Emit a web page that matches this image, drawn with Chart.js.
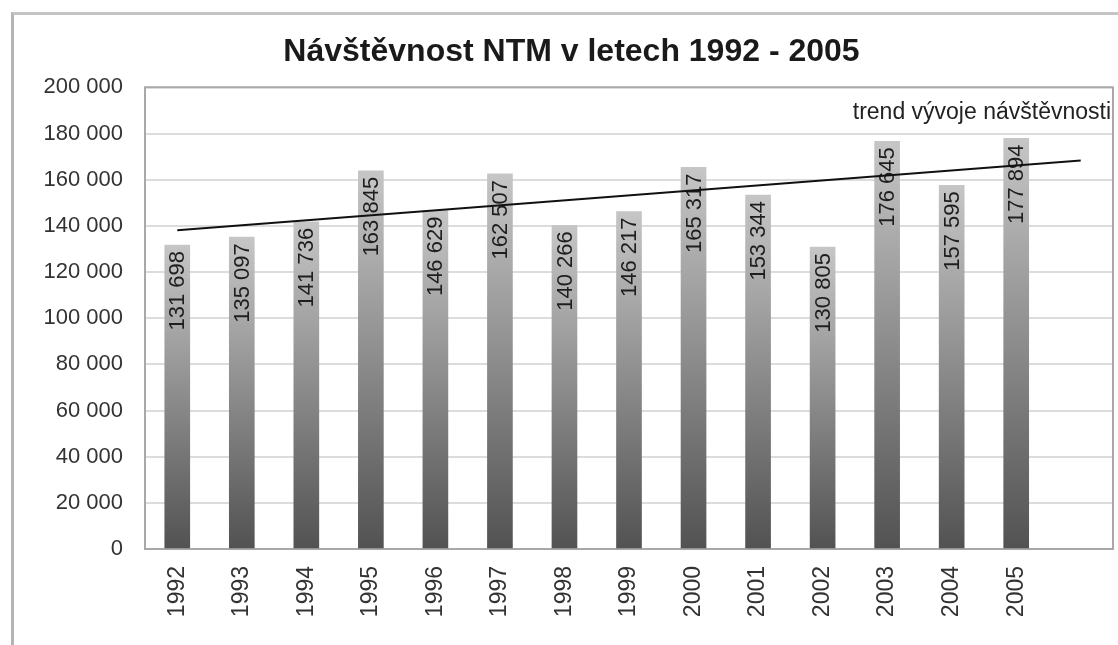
<!DOCTYPE html>
<html>
<head>
<meta charset="utf-8">
<script src="https://cdn.jsdelivr.net/npm/chart.js@4.4.0/dist/chart.umd.min.js"></script>
<style>
  html, body { margin: 0; padding: 0; background: #fff; overflow: hidden; }
  #frame { position: absolute; left: 11px; top: 12px; width: 1120px; height: 650px;
           border-left: 3px solid #b4b4b4; border-top: 3px solid #c4c4c4; }
  #wrap { position: absolute; left: 0; top: 0; width: 1118px; height: 645px; }
</style>
</head>
<body>
<div id="frame"></div>
<div id="wrap"><canvas id="chart"></canvas></div>
<script>
// years on the axis, plus one empty slot where the trend line ends
const years = ['1992', '1993', '1994', '1995', '1996', '1997', '1998',
               '1999', '2000', '2001', '2002', '2003', '2004', '2005', ''];
const visitors = [131698, 135097, 141736, 163845, 146629, 162507, 140266,
                  146217, 165317, 153344, 130805, 176645, 157595, 177894];
// trend line ends (first year and the empty slot)
const trendEnds = [138100, 168300];
const trendLabel = 'trend vývoje návštěvnosti';
const titleText = 'Návštěvnost NTM v letech 1992 - 2005';

const FONT = "'Liberation Sans', Arial, sans-serif";

function fmt(n) {
  return String(n).replace(/\B(?=(\d{3})+(?!\d))/g, ' ');
}

const trendData = years.map(() => null);
trendData[0] = trendEnds[0];
trendData[years.length - 1] = trendEnds[1];

function barGradient(ctx) {
  const chart = ctx.chart;
  if (!chart.chartArea || ctx.raw == null) return '#888';
  const y = chart.scales.y;
  const top = y.getPixelForValue(ctx.raw);
  const bot = y.getPixelForValue(0);
  const g = chart.ctx.createLinearGradient(0, top, 0, bot);
  g.addColorStop(0, '#c6c6c6');
  g.addColorStop(0.5, '#8c8c8c');
  g.addColorStop(1, '#525252');
  return g;
}

// plot frame behind the bars
const frameBox = {
  id: 'frameBox',
  beforeDatasetsDraw(chart) {
    const { ctx, chartArea: a } = chart;
    ctx.save();
    ctx.strokeStyle = '#a8a8a8';
    ctx.lineWidth = 2;
    ctx.strokeRect(a.left, a.top, a.right - a.left, a.bottom - a.top);
    ctx.restore();
  }
};

// vertical value labels at the top of each bar
const barLabels = {
  id: 'barLabels',
  afterDatasetDraw(chart, args) {
    if (args.index !== 0) return;
    const { ctx } = chart;
    const meta = chart.getDatasetMeta(0);
    ctx.save();
    ctx.font = '22px ' + FONT;
    ctx.fillStyle = '#1e1e1e';
    ctx.textAlign = 'right';
    ctx.textBaseline = 'middle';
    meta.data.forEach((bar, i) => {
      if (visitors[i] == null) return;
      ctx.save();
      ctx.translate(bar.x + 1, bar.y + 6);
      ctx.rotate(-Math.PI / 2);
      ctx.fillText(fmt(visitors[i]), 0, 0);
      ctx.restore();
    });
    ctx.restore();
  }
};

// caption for the trend line
const trendCaption = {
  id: 'trendCaption',
  afterDraw(chart) {
    const { ctx, chartArea: a } = chart;
    ctx.save();
    ctx.font = '23px ' + FONT;
    ctx.fillStyle = '#222';
    ctx.textAlign = 'right';
    ctx.textBaseline = 'middle';
    ctx.fillText(trendLabel, a.right - 2, a.top + 25);
    ctx.restore();
  }
};

new Chart(document.getElementById('chart'), {
  data: {
    labels: years,
    datasets: [
      {
        type: 'bar',
        data: visitors,
        backgroundColor: barGradient,
        borderWidth: 0,
        barThickness: 25,
        order: 1
      },
      {
        type: 'line',
        data: trendData,
        spanGaps: true,
        borderColor: '#111',
        borderWidth: 2,
        pointRadius: 0,
        fill: false,
        order: 0
      }
    ]
  },
  options: {
    responsive: true,
    maintainAspectRatio: false,
    animation: false,
    layout: { padding: { top: 24, left: 30, right: 5, bottom: 10 } },
    plugins: {
      legend: { display: false },
      tooltip: { enabled: false },
      title: {
        display: true,
        text: titleText,
        color: '#1a1a1a',
        font: { family: FONT, size: 32, weight: 'bold' },
        padding: { top: 9, bottom: 16 }
      }
    },
    scales: {
      x: {
        grid: { display: false, drawTicks: false },
        border: { display: false },
        ticks: {
          color: '#333',
          font: { family: FONT, size: 23 },
          minRotation: 90,
          maxRotation: 90,
          autoSkip: false,
          padding: 17
        },
        afterFit(scale) {
          scale.height = 86;
          scale.paddingLeft = 0;
          scale.paddingRight = 0;
        }
      },
      y: {
        min: 0,
        max: 200000,
        grid: { color: '#dcdcdc', lineWidth: 2, drawTicks: false },
        border: { display: false },
        ticks: {
          stepSize: 20000,
          color: '#333',
          font: { family: FONT, size: 22 },
          padding: 22,
          callback: v => fmt(v)
        },
        afterFit(scale) { scale.width = 115; }
      }
    }
  },
  plugins: [frameBox, barLabels, trendCaption]
});
</script>
</body>
</html>
